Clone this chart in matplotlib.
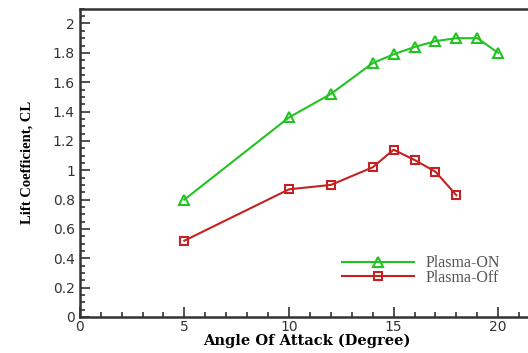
import matplotlib

matplotlib.use("Agg")
import matplotlib.pyplot as plt
from matplotlib.ticker import MultipleLocator

aoa_on = [5, 10, 12, 14, 15, 16, 17, 18, 19, 20]
cl_on = [0.80, 1.36, 1.52, 1.73, 1.79, 1.84, 1.88, 1.90, 1.90, 1.80]
aoa_off = [5, 10, 12, 14, 15, 16, 17, 18]
cl_off = [0.52, 0.87, 0.90, 1.02, 1.14, 1.07, 0.99, 0.83]

fig = plt.figure(figsize=(5.28, 3.53), dpi=100)
ax = fig.add_axes([0.151, 0.102, 0.86, 0.873])

green = "#22C322"
red = "#C42222"
ax.plot(aoa_on, cl_on, color=green, lw=1.5, marker="^", ms=7, mfc="none", mew=1.5, label="Plasma-ON")
ax.plot(aoa_off, cl_off, color=red, lw=1.5, marker="s", ms=6, mfc="none", mew=1.5, label="Plasma-Off")

ax.set_xlim(0, 21.7)
ax.set_ylim(0, 2.1)
ax.xaxis.set_major_locator(MultipleLocator(5))
ax.xaxis.set_minor_locator(MultipleLocator(1))
ax.yaxis.set_major_locator(MultipleLocator(0.2))
ax.yaxis.set_minor_locator(MultipleLocator(0.05))
ax.yaxis.set_major_formatter(plt.FuncFormatter(lambda v, p: f"{v:g}"))

ax.tick_params(which="both", direction="in", top=False, right=False, colors="#333333",
               labelsize=10, width=1.2)
ax.tick_params(which="major", length=7)
ax.tick_params(which="minor", length=3.5)
ax.tick_params(axis="x", pad=2)
ax.spines["right"].set_visible(False)
for s in ("left", "bottom", "top"):
    ax.spines[s].set_linewidth(1.8)
    ax.spines[s].set_color("#333333")

ax.set_xlabel("Angle Of Attack (Degree)", family="DejaVu Serif", fontweight="bold",
              fontsize=10.5, labelpad=0)
ax.set_ylabel("Lift Coefficient, CL", family="Liberation Serif", fontweight="bold",
              fontsize=10.5, labelpad=14)

leg = ax.legend(loc="lower right", bbox_to_anchor=(0.957, 0.055), frameon=False,
                prop={"family": "Liberation Serif", "size": 11.5}, handlelength=4.5,
                labelspacing=-0.1, handletextpad=0.7)
for t in leg.get_texts():
    t.set_color("#555555")

fig.savefig("out.png", dpi=100)
